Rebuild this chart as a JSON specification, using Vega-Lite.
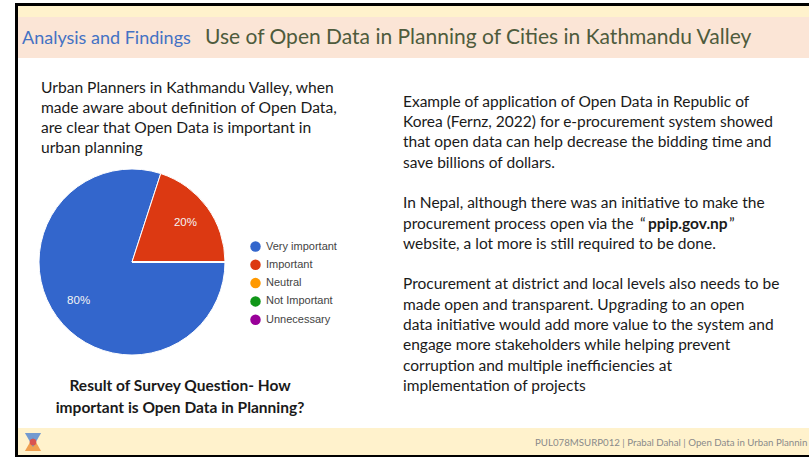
{
  "$schema": "https://vega.github.io/schema/vega-lite/v6.json",
  "width": 809,
  "height": 457,
  "autosize": "none",
  "padding": 0,
  "background": "white",
  "config": {"view": {"stroke": null}, "text": {"font": "Lato"}},
  "data": {
    "values": [
      {"answer": "Very important", "share": 0.8, "rank": 1},
      {"answer": "Important", "share": 0.2, "rank": 2},
      {"answer": "Neutral", "share": 0, "rank": 3},
      {"answer": "Not Important", "share": 0, "rank": 4},
      {"answer": "Unnecessary", "share": 0, "rank": 5}
    ]
  },
  "layer": [
    {"data": {"values": [{}]}, "mark": {"type": "rect", "x": 15, "x2": 809, "y": 6, "y2": 17, "fill": "#FFF2CC"}, "encoding": {}},
    {"data": {"values": [{}]}, "mark": {"type": "rect", "x": 18, "x2": 809, "y": 17, "y2": 58, "fill": "#FBE5D6"}, "encoding": {}},
    {"data": {"values": [{}]}, "mark": {"type": "rect", "x": 18, "x2": 809, "y": 428, "y2": 455, "fill": "#FFF2CC"}, "encoding": {}},
    {"data": {"values": [{}]}, "mark": {"type": "rect", "x": 15, "x2": 809, "y": 3, "y2": 6, "fill": "#000000"}, "encoding": {}},
    {"data": {"values": [{}]}, "mark": {"type": "rect", "x": 15, "x2": 18, "y": 3, "y2": 457, "fill": "#000000"}, "encoding": {}},
    {"data": {"values": [{}]}, "mark": {"type": "rect", "x": 15, "x2": 809, "y": 455, "y2": 457, "fill": "#000000"}, "encoding": {}},
    {
      "mark": {"type": "arc", "x": 132, "y": 262, "outerRadius": 93, "stroke": "white", "strokeWidth": 1},
      "encoding": {
        "theta": {"field": "share", "type": "quantitative", "stack": true, "scale": {"range": [1.5708, 7.854]}},
        "order": {"field": "rank", "type": "quantitative"},
        "color": {
          "field": "answer",
          "type": "nominal",
          "scale": {
            "domain": ["Very important", "Important", "Neutral", "Not Important", "Unnecessary"],
            "range": ["#3366CC", "#DC3912", "#FF9900", "#109618", "#990099"]
          },
          "legend": {
            "orient": "none",
            "legendX": 250,
            "legendY": 241,
            "title": null,
            "symbolType": "circle",
            "symbolSize": 110,
            "symbolStrokeWidth": 0,
            "symbolOpacity": 1,
            "labelFont": "Liberation Sans",
            "labelFontSize": 11,
            "labelColor": "#444444",
            "labelOffset": 5,
            "rowPadding": 6.3
          }
        }
      }
    },
    {
      "transform": [{"filter": "datum.share > 0"}],
      "mark": {"type": "text", "x": 132, "y": 262, "radius": 66, "font": "Liberation Sans", "fontSize": 11.5, "fill": "#F4F4F4"},
      "encoding": {
        "theta": {"field": "share", "type": "quantitative", "stack": true, "scale": {"range": [1.5708, 7.854]}},
        "order": {"field": "rank", "type": "quantitative"},
        "text": {"field": "share", "type": "quantitative", "format": ".0%"}
      }
    },
    {"data": {"values": [{}]}, "mark": {"type": "text", "x": 22, "y": 44, "align": "left", "baseline": "alphabetic", "fontSize": 18, "fill": "#4472C4", "text": "Analysis and Findings"}, "encoding": {}},
    {"data": {"values": [{}]}, "mark": {"type": "text", "x": 205, "y": 44, "align": "left", "baseline": "alphabetic", "fontSize": 21, "fill": "#4E5B3C", "text": "Use of Open Data in Planning of Cities in Kathmandu Valley"}, "encoding": {}},
    {"data": {"values": [{}]}, "mark": {"type": "text", "x": 41, "y": 92.5, "align": "left", "baseline": "alphabetic", "fontSize": 15.6, "lineHeight": 20.2, "fill": "#1A1A1A", "text": ["Urban Planners in Kathmandu Valley, when", "made aware about definition of Open Data,", "are clear that Open Data is important in", "urban planning"]}, "encoding": {}},
    {"data": {"values": [{}]}, "mark": {"type": "text", "x": 180, "y": 391, "align": "center", "baseline": "alphabetic", "fontSize": 15.5, "fontWeight": "bold", "lineHeight": 21.5, "fill": "#1A1A1A", "text": ["Result of Survey Question- How", "important is Open Data in Planning?"]}, "encoding": {}},
    {"data": {"values": [{}]}, "mark": {"type": "text", "x": 403, "y": 106.7, "align": "left", "baseline": "alphabetic", "fontSize": 15.5, "lineHeight": 20.3, "fill": "#1A1A1A", "text": ["Example of application of Open Data in Republic of", "Korea (Fernz, 2022) for e-procurement system showed", "that open data can help decrease the bidding time and", "save billions of dollars."]}, "encoding": {}},
    {"data": {"values": [{}]}, "mark": {"type": "text", "x": 403, "y": 208.2, "align": "left", "baseline": "alphabetic", "fontSize": 15.5, "fill": "#1A1A1A", "text": "In Nepal, although there was an initiative to make the"}, "encoding": {}},
    {"data": {"values": [{}]}, "mark": {"type": "text", "x": 403, "y": 228.5, "align": "left", "baseline": "alphabetic", "fontSize": 15.5, "fill": "#1A1A1A", "text": "procurement process open via the"}, "encoding": {}},
    {"data": {"values": [{}]}, "mark": {"type": "text", "x": 640, "y": 228.5, "align": "left", "baseline": "alphabetic", "fontSize": 15.5, "fill": "#1A1A1A", "text": "\u201c"}, "encoding": {}},
    {"data": {"values": [{}]}, "mark": {"type": "text", "x": 648, "y": 228.5, "align": "left", "baseline": "alphabetic", "fontSize": 15.5, "fontWeight": "bold", "fill": "#1A1A1A", "text": "ppip.gov.np"}, "encoding": {}},
    {"data": {"values": [{}]}, "mark": {"type": "text", "x": 729, "y": 228.5, "align": "left", "baseline": "alphabetic", "fontSize": 15.5, "fill": "#1A1A1A", "text": "\u201d"}, "encoding": {}},
    {"data": {"values": [{}]}, "mark": {"type": "text", "x": 403, "y": 248.8, "align": "left", "baseline": "alphabetic", "fontSize": 15.5, "fill": "#1A1A1A", "text": "website, a lot more is still required to be done."}, "encoding": {}},
    {"data": {"values": [{}]}, "mark": {"type": "text", "x": 403, "y": 289.4, "align": "left", "baseline": "alphabetic", "fontSize": 15.5, "lineHeight": 20.3, "fill": "#1A1A1A", "text": ["Procurement at district and local levels also needs to be", "made open and transparent. Upgrading to an open", "data initiative would add more value to the system and", "engage more stakeholders while helping prevent", "corruption and multiple inefficiencies at", "implementation of projects"]}, "encoding": {}},
    {"data": {"values": [{}]}, "mark": {"type": "text", "x": 535, "y": 446, "align": "left", "baseline": "alphabetic", "fontSize": 9.7, "fill": "#8A8A8A", "text": "PUL078MSURP012 | Prabal Dahal | Open Data in Urban Plannin"}, "encoding": {}},
    {"data": {"values": [{}]}, "mark": {"type": "point", "x": 33, "y": 444, "shape": "triangle-up", "size": 260, "filled": true, "fill": "#F0A050", "opacity": 1}, "encoding": {}},
    {"data": {"values": [{}]}, "mark": {"type": "point", "x": 33, "y": 440, "shape": "triangle-down", "size": 260, "filled": true, "fill": "#5B8BD0", "opacity": 0.85}, "encoding": {}},
    {"data": {"values": [{}]}, "mark": {"type": "point", "x": 33, "y": 442, "shape": "circle", "size": 45, "filled": true, "fill": "#D9534F", "opacity": 1}, "encoding": {}}
  ]
}
